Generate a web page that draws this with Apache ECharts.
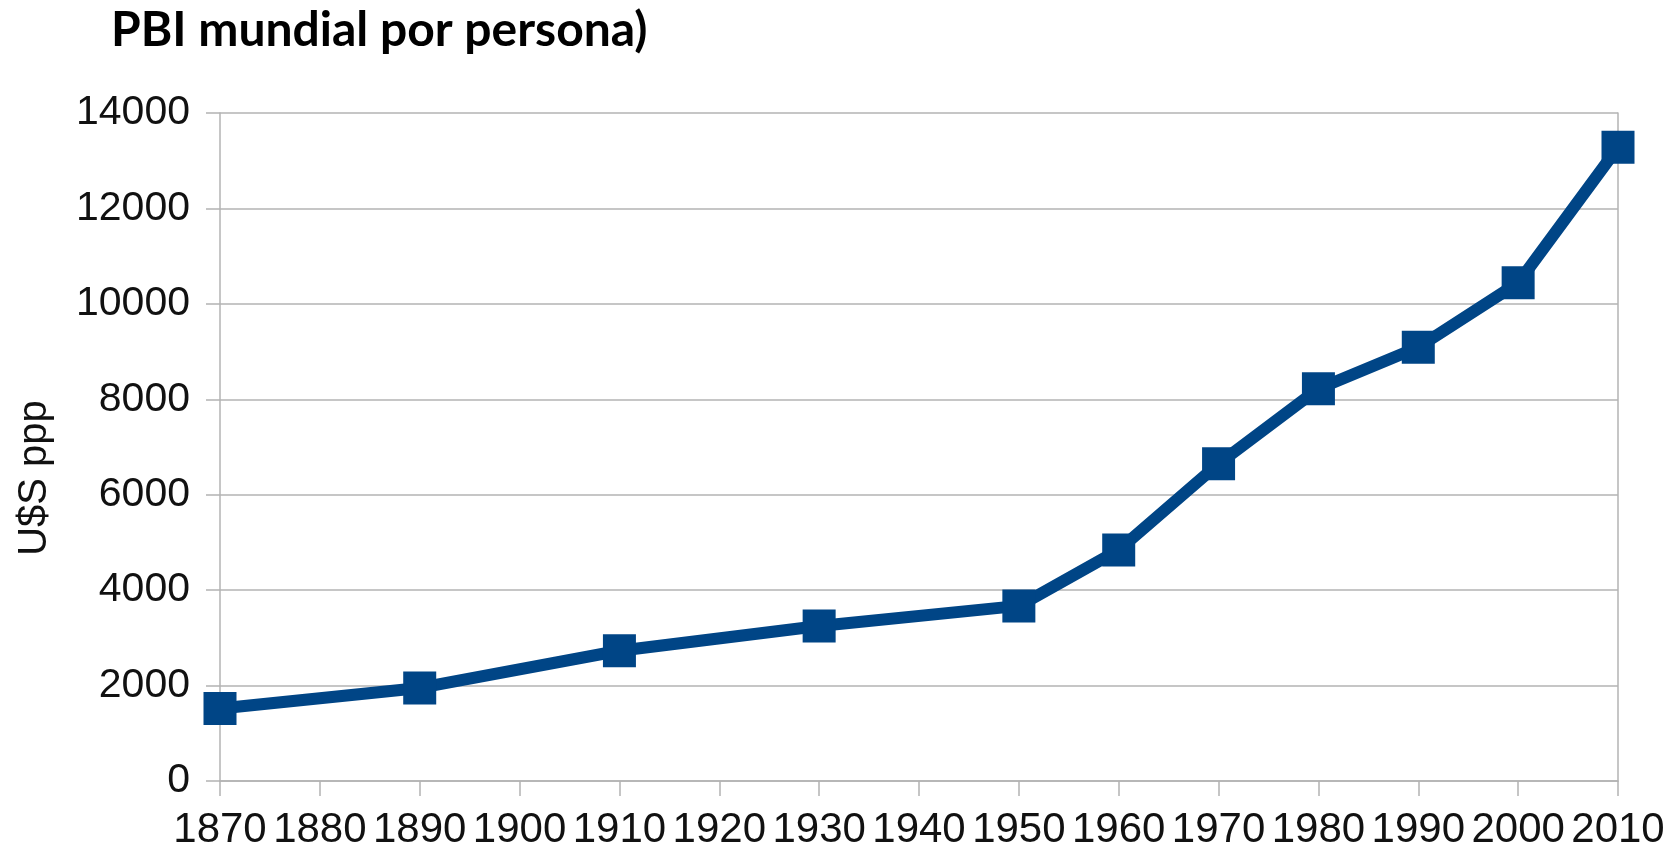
<!DOCTYPE html>
<html>
<head>
<meta charset="utf-8">
<script src="https://cdn.jsdelivr.net/npm/echarts@6/dist/echarts.min.js"></script>
<style>
html, body { margin: 0; padding: 0; background: #fff; }
#chart { width: 1675px; height: 852px; }
</style>
</head>
<body>
<div id="chart"></div>
<script>
var years = [1870, 1890, 1910, 1930, 1950, 1960, 1970, 1980, 1990, 2000, 2010],
    gdp = [1520, 1950, 2730, 3250, 3670, 4840, 6650, 8220, 9090, 10440, 13280];

var points = [];
for (var i = 0; i < years.length; i++) points.push([years[i], gdp[i]]);

var chart = echarts.init(document.getElementById('chart'));
chart.setOption({
    animation: false,
    title: {
        text: 'PBI mundial por persona)',
        left: 106, top: 2,
        textStyle: {fontFamily: 'Lato', fontWeight: 'bold', fontSize: 48, color: '#000'}
    },
    grid: {left: 220, right: 57, top: 113, bottom: 71},
    xAxis: {
        type: 'value', min: 1870, max: 2010, interval: 10,
        axisLine: {show: true, onZero: false, lineStyle: {color: '#b3b3b3', width: 1.5}},
        axisTick: {show: true, length: 15, lineStyle: {color: '#b3b3b3', width: 1.5}},
        axisLabel: {
            margin: 28, fontSize: 42, color: '#111', fontFamily: 'Liberation Sans',
            formatter: function (v) { return String(v); }
        },
        splitLine: {show: false}
    },
    yAxis: [{
        type: 'value', min: 0, max: 14000, interval: 2000,
        name: 'U$S ppp', nameLocation: 'middle', nameGap: 165,
        nameTextStyle: {fontSize: 40, color: '#111', fontFamily: 'Liberation Sans', padding: [0, 62, 0, 0]},
        axisLine: {show: true, lineStyle: {color: '#b3b3b3', width: 1.5}},
        axisTick: {show: true, length: 14, lineStyle: {color: '#b3b3b3', width: 1.5}},
        axisLabel: {
            margin: 30, fontSize: 41, color: '#111', fontFamily: 'Liberation Sans',
            formatter: function (v) { return String(v); }
        },
        splitLine: {show: true, lineStyle: {color: '#b3b3b3', width: 1.5}}
    }, {
        type: 'value', min: 0, max: 14000, interval: 2000, position: 'right',
        axisLine: {show: true, lineStyle: {color: '#b3b3b3', width: 1.5}},
        axisTick: {show: false}, axisLabel: {show: false}, splitLine: {show: false}
    }],
    series: [{
        name: 'PBI', type: 'line', data: points,
        symbol: 'rect', symbolSize: 33,
        lineStyle: {color: '#004586', width: 12},
        itemStyle: {color: '#004586'}
    }]
});
</script>
</body>
</html>
